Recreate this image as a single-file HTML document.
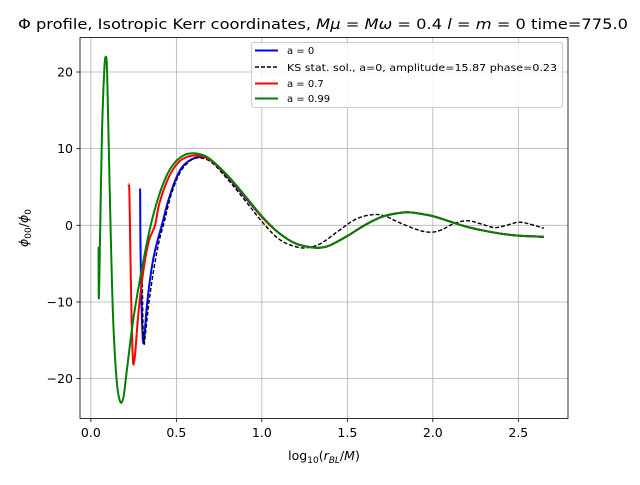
<!DOCTYPE html>
<html><head><meta charset="utf-8"><style>
body{margin:0;background:#fff}
svg{font-family:"DejaVu Sans","Liberation Sans",sans-serif}
</style></head><body>
<svg id="c" width="640" height="480" viewBox="0 0 640 480">
<rect width="640" height="480" fill="#fff"/>
<text x="323" y="29" font-size="14.5" text-anchor="middle" textLength="610" lengthAdjust="spacingAndGlyphs">Φ profile, Isotropic Kerr coordinates, <tspan font-style="italic">Mμ</tspan> = <tspan font-style="italic">Mω</tspan> = 0.4 <tspan font-style="italic">l</tspan> = <tspan font-style="italic">m</tspan> = 0 time=775.0</text>
<g id="grid"></g>
<g id="plot"></g>
<rect x="80" y="37.5" width="488" height="381" fill="none" stroke="#000" stroke-width="0.8"/>
<g id="ticks" font-size="12.5"></g>
<text x="324" y="460" font-size="12.5" text-anchor="middle">log<tspan font-size="9" dy="3">10</tspan><tspan dy="-3">(</tspan><tspan font-style="italic">r</tspan><tspan font-size="9" font-style="italic" dy="3">BL</tspan><tspan dy="-3">/</tspan><tspan font-style="italic">M</tspan>)</text>
<text transform="translate(28,228) rotate(-90)" font-size="12.5" text-anchor="middle"><tspan font-style="italic">ϕ</tspan><tspan font-size="9" dy="3">00</tspan><tspan dy="-3">/</tspan><tspan font-style="italic">ϕ</tspan><tspan font-size="9" dy="3">0</tspan></text>
<g>
<rect x="251.5" y="42.5" width="311" height="65" rx="2" fill="#fff" fill-opacity="0.8" stroke="#ccc"/>
<g font-size="10">
<g><line x1="255" y1="50.5" x2="278" y2="50.5" stroke="#0000ff" stroke-width="2"/><text x="287" y="54">a = 0</text></g>
<g><line x1="255" y1="67" x2="278" y2="67" stroke="#000" stroke-width="1.4" stroke-dasharray="4,2"/><text x="287" y="71" textLength="270" lengthAdjust="spacingAndGlyphs">KS stat. sol., a=0, amplitude=15.87 phase=0.23</text></g>
<g><line x1="255" y1="83.5" x2="278" y2="83.5" stroke="#ff0000" stroke-width="2"/><text x="287" y="87">a = 0.7</text></g>
<g><line x1="255" y1="98.5" x2="278" y2="98.5" stroke="#008000" stroke-width="2"/><text x="287" y="102">a = 0.99</text></g>
</g></g>
</svg>
<script>
const xTicks=[0,0.5,1.0,1.5,2.0,2.5];
const xTickLabels=["0.0","0.5","1.0","1.5","2.0","2.5"];
const yTicks=[-20,-10,0,10,20];
const yTickLabels=["\u221220","\u221210","0","10","20"];
const greenX=[0.045,0.047,0.055,0.065,0.078,0.087,0.095,0.105,0.115,0.13,0.15,0.17,0.19,0.21,0.25,0.3,0.35,0.4,0.45,0.5,0.55,0.6,0.65,0.7,0.8,0.9,1.0,1.1,1.2,1.3,1.35,1.4,1.5,1.6,1.7,1.8,1.85,1.9,2.0,2.1,2.2,2.3,2.4,2.5,2.65];
const greenY=[-2.8,-9.5,0,12,20,22,20,10,0,-12,-20,-22.9,-22.5,-19,-12,-5.5,0,4,6.8,8.4,9.2,9.4,9.2,8.6,6.5,3.9,1.2,-1,-2.4,-2.9,-2.9,-2.6,-1.4,0,1.1,1.6,1.7,1.6,1.2,0.5,-0.2,-0.7,-1.1,-1.35,-1.5];
const redX=[0.219,0.225,0.23,0.238,0.246,0.252,0.26,0.28,0.31,0.34,0.375,0.4,0.45,0.5,0.55,0.62,0.7,0.8,0.9,1.0,1.1,1.2,1.3,1.35,1.4,1.5,1.6,1.7,1.8,1.85,1.9,2.0,2.1,2.2,2.3,2.4,2.5,2.65];
const redY=[5.3,4.5,-2,-12,-17.5,-17.9,-16.5,-11,-5.5,-2,0,2.8,6,7.9,8.8,9.1,8.5,6.4,3.8,1.1,-1,-2.4,-2.9,-2.9,-2.6,-1.4,0,1.1,1.6,1.7,1.6,1.2,0.5,-0.2,-0.7,-1.1,-1.35,-1.5];
const blueX=[0.288,0.29,0.296,0.303,0.308,0.315,0.33,0.36,0.39,0.415,0.45,0.5,0.55,0.63,0.7,0.8,0.9,1.0,1.1,1.2,1.3,1.35,1.4,1.5,1.6,1.7,1.8,1.85,1.9,2.0,2.1,2.2,2.3,2.4,2.5,2.65];
const blueY=[4.8,-2,-10,-14.5,-15.3,-14,-10,-5,-2,0,3,6.2,8,8.9,8.5,6.3,3.7,1.1,-1,-2.4,-2.9,-2.9,-2.6,-1.4,0,1.1,1.6,1.7,1.6,1.2,0.5,-0.2,-0.7,-1.1,-1.35,-1.5];
const ksX=[0.3,0.305,0.311,0.32,0.34,0.37,0.4,0.43,0.47,0.52,0.57,0.62,0.7,0.8,0.9,1.0,1.1,1.2,1.27,1.35,1.45,1.55,1.65,1.72,1.8,1.9,1.98,2.05,2.12,2.2,2.28,2.36,2.43,2.5,2.56,2.65];
const ksY=[-6,-13,-15.5,-14,-10,-5.5,-2,0.5,4,6.8,8.2,8.8,8.3,6,3.3,0.5,-1.8,-2.8,-2.9,-2.3,-0.7,0.8,1.4,1.2,0.4,-0.5,-0.9,-0.6,0.2,0.6,0.2,-0.3,0,0.4,0.2,-0.4];
const NS="http://www.w3.org/2000/svg";
const X0=-0.0635,X1=2.7905,Y0=-25.2,Y1=24.5;
function sx(v){return 80+(v-X0)/(X1-X0)*488;}
function sy(v){return 418.5-(v-Y0)/(Y1-Y0)*381;}
function mk(tag,attrs,parent){const e=document.createElementNS(NS,tag);for(const k in attrs)e.setAttribute(k,attrs[k]);parent.appendChild(e);return e;}
const grid=document.getElementById('grid'),ticks=document.getElementById('ticks'),plot=document.getElementById('plot');
xTicks.forEach((t,i)=>{const x=sx(t);
 const g=mk('line',{x1:x,x2:x,y1:37.5,y2:418.5,stroke:'#b0b0b0','stroke-width':0.8},grid);
 
 
 mk('line',{x1:x,x2:x,y1:418.5,y2:422,stroke:'#000','stroke-width':0.8},ticks);
 const tx=mk('text',{x:x,y:437,'text-anchor':'middle'},ticks);tx.textContent=xTickLabels[i];
 
 
});
yTicks.forEach((t,i)=>{const y=sy(t);
 const g=mk('line',{x1:80,x2:568,y1:y,y2:y,stroke:'#b0b0b0','stroke-width':0.8},grid);
 
 
 mk('line',{x1:76.5,x2:80,y1:y,y2:y,stroke:'#000','stroke-width':0.8},ticks);
 const tx=mk('text',{x:73,y:y+4.5,'text-anchor':'end'},ticks);tx.textContent=yTickLabels[i];
 
 
});
function path(xs,ys){const p=xs.map((x,i)=>[sx(x),sy(ys[i])]);let d='M'+p[0][0]+','+p[0][1];
 for(let i=0;i<p.length-1;i++){const a=p[Math.max(i-1,0)],b=p[i],c=p[i+1],e=p[Math.min(i+2,p.length-1)];
 const t=0.18;d+=' C'+(b[0]+(c[0]-a[0])*t)+','+(b[1]+(c[1]-a[1])*t)+' '+(c[0]-(e[0]-b[0])*t)+','+(c[1]-(e[1]-b[1])*t)+' '+c[0]+','+c[1];}
 return d;}
const s1=mk('path',{d:path(blueX,blueY),fill:'none',stroke:'#0000ff','stroke-width':2},plot);


const s2=mk('path',{d:path(ksX,ksY),fill:'none',stroke:'#000','stroke-width':1.4,'stroke-dasharray':'4,2'},plot);


const s3=mk('path',{d:path(redX,redY),fill:'none',stroke:'#ff0000','stroke-width':2},plot);


const s4=mk('path',{d:path(greenX,greenY),fill:'none',stroke:'#008000','stroke-width':2},plot);


</script>
</body></html>
